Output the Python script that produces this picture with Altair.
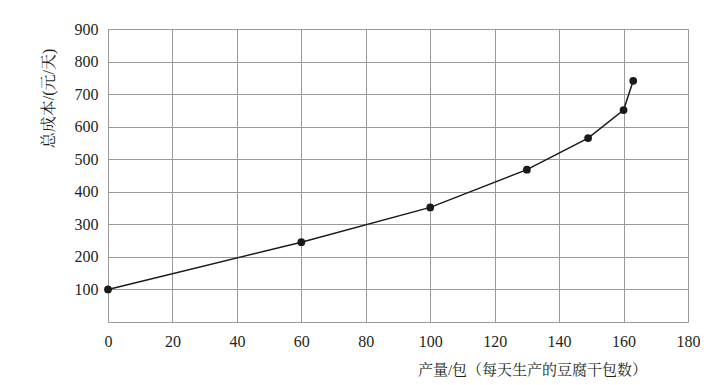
import altair as alt
import pandas as pd

# data
output_bags = [0, 60, 100, 130, 149, 160, 163]
total_cost = [100, 245, 352, 468, 565, 651, 741]
x_ticks = [0, 20, 40, 60, 80, 100, 120, 140, 160, 180]
y_ticks = [100, 200, 300, 400, 500, 600, 700, 800, 900]

df = pd.DataFrame({"q": output_bags, "c": total_cost})

FONT = "Liberation Serif, 'Noto Serif CJK SC', 'Noto Sans CJK SC', serif"
TEXT = "#231f20"
GRID = "#9a9a9a"

x = alt.X(
    "q:Q",
    scale=alt.Scale(domain=[0, 180], nice=False, zero=True),
    axis=alt.Axis(
        values=x_ticks, title="产量/包（每天生产的豆腐干包数）",
        titleX=424, titleY=47, titleBaseline="middle", titleAlign="center",
        titleFont=FONT, titleFontSize=15, titleFontWeight="normal", titleColor=TEXT,
        labelFont=FONT, labelFontSize=16, labelColor=TEXT, labelPadding=11,
        ticks=False, domain=False, grid=True, gridColor=GRID, gridWidth=1,
        labelFlush=False,
    ),
)
y = alt.Y(
    "c:Q",
    scale=alt.Scale(domain=[0, 900], nice=False),
    axis=alt.Axis(
        values=y_ticks, title="总成本/(元/天)",
        titleX=-60, titleY=69, titleAngle=-90, titleBaseline="middle", titleAlign="center",
        titleFont=FONT, titleFontSize=16, titleFontWeight="normal", titleColor=TEXT,
        labelFont=FONT, labelFontSize=16, labelColor=TEXT, labelPadding=10,
        ticks=False, domain=False, grid=True, gridColor=GRID, gridWidth=1,
    ),
)

line = alt.Chart(df).mark_line(color="#1a1a1a", strokeWidth=1.5).encode(x=x, y=y)
pts = alt.Chart(df).mark_point(filled=True, color="#1a1a1a", size=60, opacity=1).encode(x=x, y=y)

chart = (
    alt.layer(line, pts)
    .properties(
        width=580, height=293,
        autosize=alt.AutoSizeParams(type="none"),
        padding={"left": 100, "top": 21, "right": 12, "bottom": 55},
        background="white",
    )
    .configure_view(stroke=GRID, strokeWidth=1)
)

chart.save("out.html", embed_options={"renderer": "svg", "actions": False})
